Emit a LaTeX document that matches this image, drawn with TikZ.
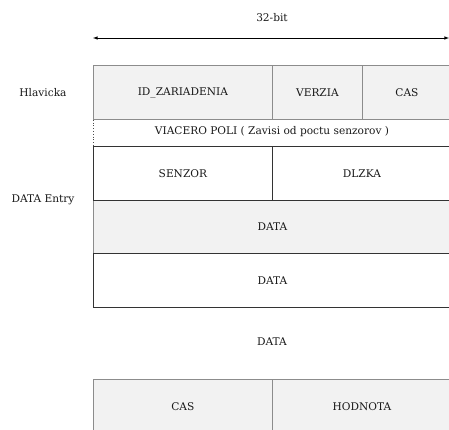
\documentclass[tikz,border=0pt]{standalone}
\usepackage{fontspec}
\setmainfont{DejaVu Serif}
\definecolor{fieldgray}{HTML}{F2F2F2}
\begin{document}
\begin{tikzpicture}[x=1pt,y=-1pt]\tikzstyle{every node}=[font=\fontsize{10.6}{12}\selectfont, text=black!90]
\tikzstyle{grayfield}=[draw=black!45, fill=fieldgray, line width=0.8pt, inner sep=0pt, anchor=north west, minimum height=54pt]
\tikzstyle{whitefield}=[draw=black!80, fill=white, line width=0.8pt, inner sep=0pt, anchor=north west, minimum height=54pt]
\useasboundingbox (0,0) rectangle (449,430);
\clip (0,0) rectangle (449,430);
% width
  \coordinate (wleft) at (93,38);
  \coordinate (wright) at (449,38);
  \node (width) at (272,18) {32-bit};
  \draw[latex-latex, line width=0.6pt] (wleft) -- (wright);
% labels
  \node (hlavicka) at (43,93) {Hlavicka};
  \node (entry) at (43,200) {DATA Entry};
% hlavicka
  \node[grayfield, minimum width=179pt] (id) at (93,65) {ID\_ZARIADENIA};
  \node[grayfield, minimum width=90pt] (verzia) at (272,65) {VERZIA};
  \node[grayfield, minimum width=89pt] (cas) at (362,65) {CAS};
  \node (poli) at (272,132) {VIACERO POLI ( Zavisi od poctu senzorov )};
% data entry
  \node[grayfield, minimum width=358pt, minimum height=53pt] (data) at (93,200) {DATA};
  \node[whitefield, minimum width=179pt] (senzor) at (93,146) {SENZOR};
  \node[whitefield, minimum width=179pt] (dlzka) at (272,146) {DLZKA};
  \node[whitefield, minimum width=358pt] (datab) at (93,253) {DATA};
% data
  \node (datalabel) at (272,342) {DATA};
  \node[grayfield, minimum width=179pt] (hodnotacas) at (93,379) {CAS};
  \node[grayfield, minimum width=179pt] (hodnota) at (272,379) {HODNOTA};
%%%%%%%%%%%%%%%%
\draw[dotted, line width=0.8pt, black!70] (id.south west) -- (senzor.north west);
\end{tikzpicture}
\end{document}
